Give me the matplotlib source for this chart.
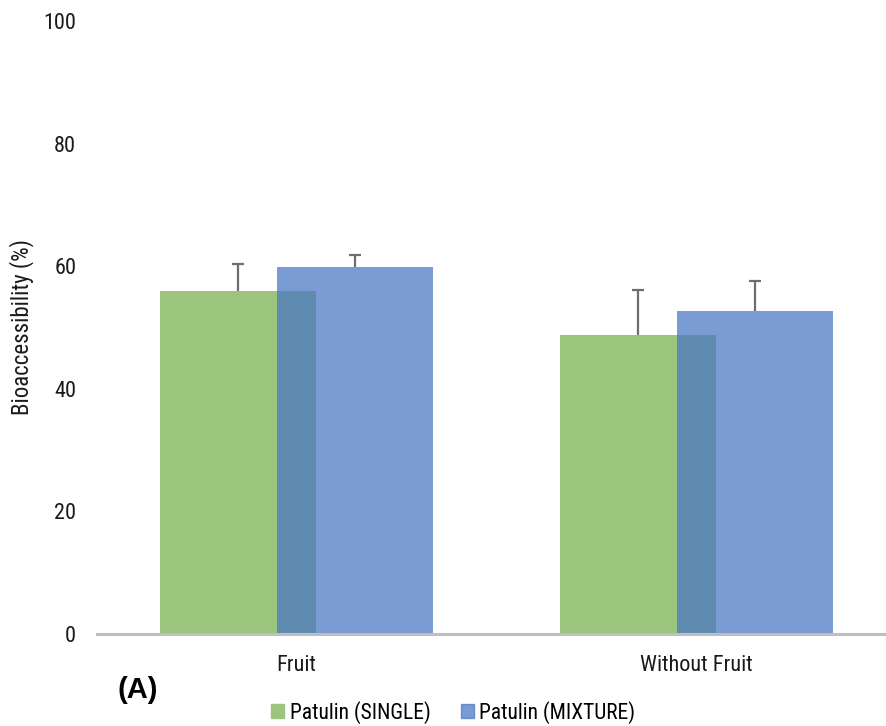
import numpy as np
import matplotlib.pyplot as plt
from matplotlib.patches import Patch

# Bioaccessibility of patulin, single vs. mixture
groups = ["Fruit", "Without Fruit"]
single_mean = [56.0, 48.8]
single_err = [4.3, 7.3]
mixture_mean = [59.8, 52.7]
mixture_err = [2.0, 4.9]

green = "#9BC47D"
blue = "#4875C5"   # drawn with alpha so the overlap darkens
err_color = "#6E6E6E"

plt.rcParams['font.family'] = ['Roboto Condensed', 'DejaVu Sans']

fig = plt.figure(figsize=(8.87, 7.26), dpi=100)
ax = fig.add_axes([0.1094, 0.1267, 0.8906, 0.8444])

x = np.arange(len(groups))
width = 0.39
shift = 0.146

ax.bar(x - shift, single_mean, width, color=green, zorder=2)
ax.bar(x + shift, mixture_mean, width, color=blue, alpha=0.72, zorder=3)

# upper error bars only; hide the cap at the bar top
for pos, mean, err in [(x - shift, single_mean, single_err), (x + shift, mixture_mean, mixture_err)]:
    eb = ax.errorbar(pos, mean, yerr=[np.zeros(len(groups)), err], fmt="none",
                     ecolor=err_color, elinewidth=1.6, capsize=4.3, capthick=1.6, zorder=4)
    eb[1][0].set_visible(False)

ax.set_xlim(-0.499, 1.476)
ax.set_ylim(0, 100)
ax.set_yticks(np.arange(0, 101, 20))
ax.set_xticks(x)
ax.set_xticklabels(groups)
ax.tick_params(axis='both', length=0, labelsize=16, colors="#1a1a1a")
ax.tick_params(axis='y', pad=15)
ax.tick_params(axis='x', pad=15)

for side in ["left", "right", "top"]:
    ax.spines[side].set_visible(False)
ax.spines["bottom"].set_color("#BFBFBF")
ax.spines["bottom"].set_linewidth(2.2)
ax.spines["bottom"].set_zorder(5)

ax.set_ylabel("Bioaccessibility (%)", fontsize=16.5, color="#1a1a1a", labelpad=7)

fig.text(0.132, 0.05, "(A)", fontsize=21, fontweight="bold", ha="left", va="center",
         family=['Liberation Sans', 'DejaVu Sans'])

handles = [Patch(color=green, label="Patulin (SINGLE)"),
           Patch(color=blue, alpha=0.72, label="Patulin (MIXTURE)")]
fig.legend(handles=handles, loc="center", bbox_to_anchor=(0.511, 0.019), ncol=2,
           frameon=False, fontsize=15.5, handlelength=0.6, handleheight=0.6,
           handletextpad=0.25, columnspacing=1.4, borderpad=0)

fig.savefig("out.png", dpi=100)
